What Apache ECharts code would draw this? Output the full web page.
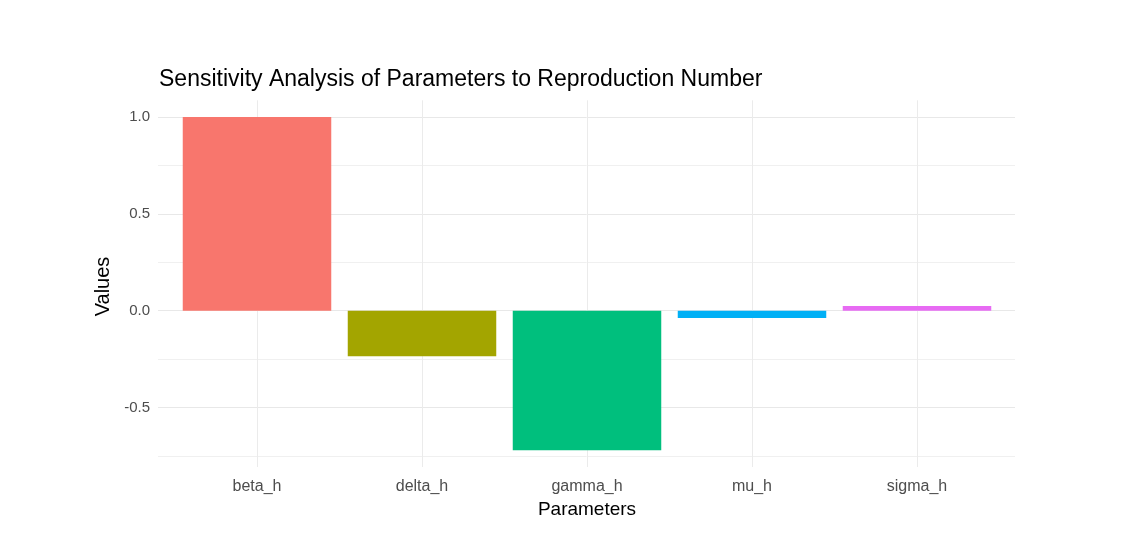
<!DOCTYPE html>
<html>
<head>
<meta charset="utf-8">
<script src="https://cdn.jsdelivr.net/npm/echarts@6/dist/echarts.min.js"></script>
<style>
  html, body { margin: 0; padding: 0; background: #fff; }
  #main { width: 1133px; height: 557px; }
</style>
</head>
<body>
<div id="main"></div>
<script>
// 数据
var params = ["beta_h", "delta_h", "gamma_h", "mu_h", "sigma_h"];
var values = [1.0, -0.235, -0.72, -0.037, 0.025];
var yTicks = [-0.5, 0.0, 0.5, 1.0];

// ggplot 默认色
var palette = ["#F8766D", "#A3A500", "#00BF7D", "#00B0F6", "#E76BF3"];

var myChart = echarts.init(document.getElementById("main"));
var font = "Liberation Sans, Arial, sans-serif";

var option = {
  animation: false,
  color: palette,
  title: {
    text: "Sensitivity Analysis of Parameters to Reproduction Number",
    left: 154,
    top: 63,
    textStyle: { color: "#000", fontSize: 23, fontWeight: "normal", fontFamily: font }
  },
  grid: [
    // 背景网格（水平线 + y 轴标签）
    { left: 158, right: 118, top: 117, bottom: 101 },
    // 柱子
    { left: 174.5, right: 133.5, top: 100.3, bottom: 90 }
  ],
  xAxis: [
    {
      gridIndex: 0, type: "value", min: 0, max: 1, show: false
    },
    {
      gridIndex: 1,
      type: "category",
      data: params,
      name: "Parameters",
      nameLocation: "middle",
      nameGap: 32,
      nameTextStyle: { color: "#000", fontSize: 19, fontFamily: font },
      axisLine: { show: false },
      axisTick: { show: false },
      axisLabel: { color: "#4d4d4d", fontSize: 16, margin: 12, fontFamily: font },
      splitLine: { show: true, alignWithLabel: true, lineStyle: { color: "#ebebeb", width: 1 } }
    }
  ],
  yAxis: [
    {
      gridIndex: 0,
      type: "value",
      min: -0.75,
      max: 1.0,
      interval: 0.25,
      name: "Values",
      nameLocation: "middle",
      nameGap: 40,
      nameTextStyle: { color: "#000", fontSize: 20, fontFamily: font },
      axisLine: { show: false },
      axisTick: { show: false },
      axisLabel: {
        color: "#4d4d4d",
        fontSize: 15,
        margin: 8,
        padding: [3, 0, 0, 0],
        fontFamily: font,
        formatter: function (v) {
          for (var i = 0; i < yTicks.length; i++) {
            if (Math.abs(v - yTicks[i]) < 1e-6) return yTicks[i].toFixed(1);
          }
          return "";
        }
      },
      splitLine: { show: true, lineStyle: { color: ["#f0f0f0", "#e8e8e8"], width: 1 } }
    },
    {
      gridIndex: 1,
      type: "value",
      min: -0.806,
      max: 1.086,
      show: false,
      splitLine: { show: false }
    }
  ],
  series: [
    {
      type: "bar",
      xAxisIndex: 1,
      yAxisIndex: 1,
      colorBy: "data",
      barWidth: "90%",
      data: values
    }
  ]
};

myChart.setOption(option);
window.addEventListener("resize", function () {
  myChart.resize();
});
</script>
</body>
</html>
